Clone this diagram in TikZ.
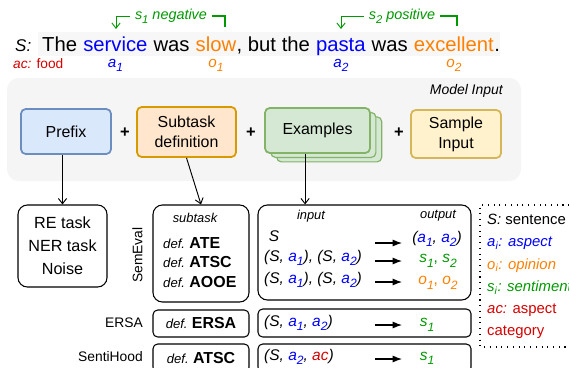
\documentclass[tikz,border=0pt]{standalone}
\usepackage{fontspec}
\setmainfont{Liberation Sans}
\usetikzlibrary{arrows.meta,shadows,positioning}
\definecolor{aspblue}{RGB}{0,0,255}
\definecolor{opnorange}{RGB}{255,128,0}
\definecolor{sntgreen}{RGB}{0,153,0}
\definecolor{acred}{RGB}{214,0,0}
\definecolor{pfxfill}{HTML}{DAE8FC}
\definecolor{pfxline}{HTML}{6C8EBF}
\definecolor{subfill}{HTML}{FFE6CC}
\definecolor{subline}{HTML}{D79B00}
\definecolor{exfill}{HTML}{D5E8D4}
\definecolor{exline}{HTML}{82B366}
\definecolor{smpfill}{HTML}{FFF2CC}
\definecolor{smpline}{HTML}{D6B656}
\definecolor{panelfill}{HTML}{F5F5F5}
\newcommand{\fsz}[2]{\fontsize{#1}{#2}\selectfont}
\newcommand{\sbs}[1]{\raisebox{-0.28em}{\scalebox{0.78}{#1}}}
\newcommand{\asp}[1]{\textcolor{aspblue}{\textit{a\sbs{#1}}}}
\newcommand{\opn}[1]{\textcolor{opnorange}{\textit{o\sbs{#1}}}}
\newcommand{\snt}[1]{\textcolor{sntgreen}{\textit{s\sbs{#1}}}}
\newcommand{\defln}[1]{{\fsz{11.2}{13}\textit{def.}} {\fsz{13.6}{16}\bfseries #1}}
\def\wsp{4.8pt}

\begin{document}
\begin{tikzpicture}[x=0.03cm, y=-0.03cm,
  wd/.style={inner sep=0pt, anchor=base west, font=\fsz{17.3}{20}},
  sml/.style={inner sep=0pt, font=\fsz{13}{15}},
  brklbl/.style={inner sep=4pt, text=sntgreen, font=\fsz{12.3}{14}\itshape},
  brk/.style={draw=sntgreen, line width=0.9pt},
  panel/.style={fill=panelfill, rounded corners=10pt},
  topbox/.style={draw, line width=1.5pt, rounded corners=4pt, align=center, font=\fsz{13.6}{17}},
  plus/.style={font=\fsz{14}{16}\bfseries},
  lowbox/.style={draw, line width=0.9pt, rounded corners=8pt},
  flatbox/.style={draw, line width=0.9pt, rounded corners=4pt},
  tag/.style={inner sep=0pt, font=\fsz{11}{13}\itshape},
  iotxt/.style={inner sep=0pt, font=\fsz{13.2}{16}},
  dset/.style={inner sep=0pt, font=\fsz{11.8}{14}},
  arr/.style={-{Straight Barb[length=4.5pt,width=7pt]}, line width=0.8pt},
  blk/.style={-{Latex[length=8pt,width=6pt]}, line width=0.9pt},
  legdot/.style={line width=0.9pt, dash pattern=on 0.9pt off 4pt}]
\useasboundingbox (0,0) rectangle (569,367);

\fill[black!3] (38,32) rectangle (500,56);
\node[wd, font=\fsz{14.5}{17}] (sS) at (15,51.5) {\textit{S:}};
\node[wd] (sw1) at (42,51.5) {The};
\node[wd, text=aspblue] (svc) at ([xshift=\wsp]sw1.base east) {service};
\node[wd] (sw2) at ([xshift=\wsp]svc.base east) {was};
\node[wd, text=opnorange] (slow) at ([xshift=\wsp]sw2.base east) {slow};
\node[wd] (sw3) at (slow.base east) {, but the};
\node[wd, text=aspblue] (pasta) at ([xshift=\wsp]sw3.base east) {pasta};
\node[wd] (sw4) at ([xshift=\wsp]pasta.base east) {was};
\node[wd, text=opnorange] (exc) at ([xshift=\wsp]sw4.base east) {excellent};
\node[wd] (dot) at (exc.base east) {.};
\node[sml, anchor=west, text=acred, font=\fsz{11.7}{14}] (acfood) at (13,64) {\textit{ac:} food};
\node[sml] (la1) at (svc.south |- 0,65.5) {\asp{1}};
\node[sml] (lo1) at (slow.south |- 0,65.5) {\opn{1}};
\node[sml] (la2) at (pasta.south |- 0,65.5) {\asp{2}};
\node[sml] (lo2) at (exc.south |- 0,65.5) {\opn{2}};

\node[brklbl] (neg) at (171,16) {s\sbs{1} negative};
\node[brklbl] (pos) at (402,16) {s\sbs{2} positive};
\coordinate (n1a) at (116,29);
\coordinate (n1b) at (225,27);
\coordinate (n2a) at (341,29);
\coordinate (n2b) at (457,26);
\draw[brk, arr, draw=sntgreen] (neg.west) -| (n1a);
\draw[brk] (neg.east) -| (n1b);
\draw[brk, arr, draw=sntgreen] (pos.west) -| (n2a);
\draw[brk] (pos.east) -| (n2b);

\fill[panel] (7,78) rectangle (521,181);
\node[tag, anchor=east, font=\fsz{11.9}{14}\itshape] (minp) at (503,91) {Model Input};
\node[topbox, fill=pfxfill, draw=pfxline, minimum width=2.7cm, minimum height=1.35cm] (prefix) at (66,131.5) {Prefix};
\node[plus] (pl1) at (125,133) {+};
\node[topbox, fill=subfill, draw=subline, minimum width=2.97cm, minimum height=1.5cm] (subt) at (186.5,132) {Subtask\\definition};
\node[plus] (pl2) at (251,133) {+};
\node[topbox, fill=exfill, draw=exline, minimum width=3.15cm, minimum height=1.35cm,
  copy shadow={shadow xshift=10pt, shadow yshift=-7.6pt, fill=exfill, draw=exline, line width=1pt},
  copy shadow={shadow xshift=5pt, shadow yshift=-3.8pt, fill=exfill, draw=exline, line width=1pt}] (ex) at (317.5,130.5) {Examples};
\node[plus] (pl3) at (399,133) {+};
\node[topbox, fill=smpfill, draw=smpline, minimum width=2.7cm, minimum height=1.44cm] (smp) at (456,134) {Sample\\Input};

\node[lowbox, minimum width=2.67cm, minimum height=2.46cm, align=center, font=\fsz{13.8}{19.5}] (noise) at (62.5,246) {RE task\\NER task\\Noise};
\node[lowbox, minimum width=2.88cm, minimum height=2.91cm] (dsub) at (201,253.5) {};
\node[tag] (stag) at (195,218) {subtask};
\node[inner sep=0pt, anchor=base west] (d1) at (163,248) {\defln{ATE}};
\node[inner sep=0pt, anchor=base west] (d2) at (163,267) {\defln{ATSC}};
\node[inner sep=0pt, anchor=base west] (d3) at (163,287) {\defln{AOOE}};
\node[dset, rotate=90] (semeval) at (137.5,255) {SemEval};

\node[flatbox, minimum width=2.88cm, minimum height=0.81cm] (dersa) at (201,323.5) {\defln{ERSA}};
\node[dset, anchor=east] (ersa) at (143,323) {ERSA};
\node[flatbox, minimum width=2.88cm, minimum height=0.84cm] (dsenti) at (201,358) {\defln{ATSC}};
\node[dset, anchor=east] (senti) at (143,357) {SentiHood};

\node[lowbox, minimum width=6.39cm, minimum height=2.85cm] (io) at (364.5,252.5) {};
\node[tag] (itag) at (311,216) {input};
\node[tag] (otag) at (438,216) {output};
\node[iotxt] (in1) at (274,236) {\textit{S}};
\node[iotxt, anchor=west] (in2) at (264,258) {\textit{(S, \asp{1}), (S, \asp{2})}};
\node[iotxt, anchor=west] (in3) at (264,280) {\textit{(S, \asp{1}), (S, \asp{2})}};
\node[iotxt] (out1) at (437,239) {\textit{(\asp{1}, \asp{2})}};
\node[iotxt] (out2) at (438,261) {\snt{1}\textcolor{sntgreen}{,} \snt{2}};
\node[iotxt] (out3) at (438,283) {\opn{1}\textcolor{opnorange}{,} \opn{2}};
\coordinate (p1) at (375,243);
\coordinate (q1) at (402,243);
\coordinate (p2) at (375,261);
\coordinate (q2) at (402,261);
\coordinate (p3) at (375,282);
\coordinate (q3) at (402,282);
\draw[blk] (p1) -- (q1);
\draw[blk] (p2) -- (q2);
\draw[blk] (p3) -- (q3);

\node[flatbox, minimum width=6.39cm, minimum height=0.84cm] (ioersa) at (364.5,323) {};
\node[iotxt, anchor=west] (in4) at (264,323) {\textit{(S, \asp{1}, \asp{2})}};
\node[iotxt] (out4) at (427,325) {\snt{1}};
\coordinate (p4) at (375,325);
\coordinate (q4) at (402,325);
\draw[blk] (p4) -- (q4);

\node[flatbox, minimum width=6.39cm, minimum height=0.84cm] (iosenti) at (364.5,358) {};
\node[iotxt, anchor=west] (in5) at (264,357) {\textit{(S, \asp{2}, \textcolor{acred}{ac})}};
\node[iotxt] (out5) at (427,358.5) {\snt{1}};
\coordinate (p5) at (375,359);
\coordinate (q5) at (402,359);
\draw[blk] (p5) -- (q5);

\draw[arr] (prefix.south -| noise.north) -- (noise.north);
\draw[arr] (subt.south) -- (dsub.north);
\draw[arr] ([xshift=-10.6pt]ex.south) -- ([xshift=-10.6pt]ex.south |- io.north);

\draw[legdot] (575,205) -- (480,205) -- (480,347) -- (575,347);
\node[inner sep=0pt, anchor=north west, align=left, font=\fsz{12.7}{19}] (key) at (487,214) {\textit{S:} sentence\\
  \textcolor{aspblue}{\textit{a\textsubscript{i}: aspect}}\\
  \textcolor{opnorange}{\textit{o\textsubscript{i}: opinion}}\\
  \textcolor{sntgreen}{\textit{s\textsubscript{i}: sentiment}}\\
  \textcolor{acred}{\textit{ac:} aspect}\\
  \textcolor{acred}{category}};
\end{tikzpicture}
\end{document}
